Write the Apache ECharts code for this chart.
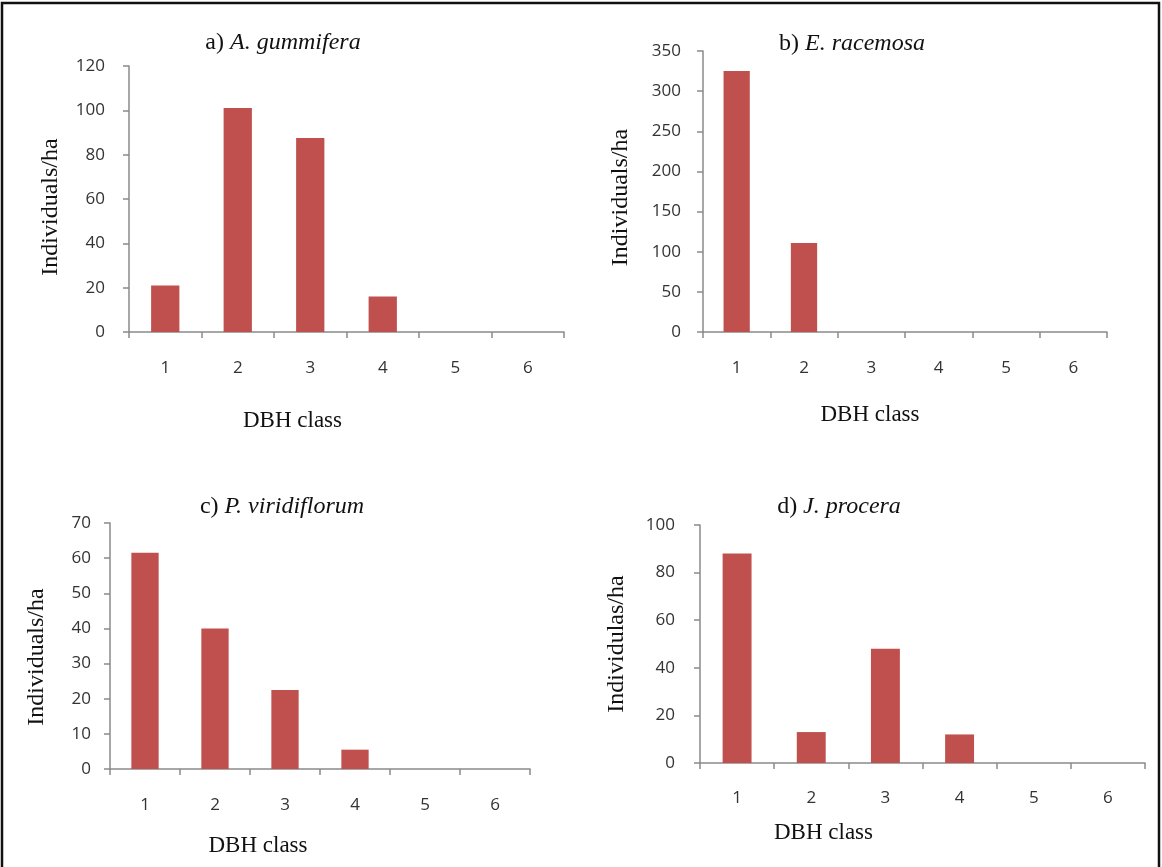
<!DOCTYPE html>
<html>
<head>
<meta charset="utf-8">
<script src="https://cdn.jsdelivr.net/npm/echarts@6/dist/echarts.min.js"></script>
<style>
html,body{margin:0;padding:0;background:#fff;}
#chart{width:1162px;height:867px;}
</style>
</head>
<body>
<div id="chart"></div>
<script>
// ---- data ----
const categories = ['1', '2', '3', '4', '5', '6'];
const gummifera = [21, 101, 87.5, 16, 0, 0];
const racemosa = [325, 111, 0, 0, 0, 0];
const viridiflorum = [61.5, 40, 22.5, 5.5, 0, 0];
const procera = [88, 13, 48, 12, 0, 0];

const titlePrefixes = ['a) ', 'b) ', 'c) ', 'd) '];
const titleSpecies = ['A. gummifera', 'E. racemosa', 'P. viridiflorum', 'J. procera'];
const yNames = ['Individuals/ha', 'Individuals/ha', 'Individuals/ha', 'Individulas/ha'];
const xName = 'DBH class';
const yMax = [120, 350, 70, 100];
const yInterval = [20, 50, 10, 20];

// ---- layout (positions & styles) ----
const grids = [
  {left: 129, top: 66, width: 435, height: 266},
  {left: 703, top: 51, width: 404, height: 281},
  {left: 110, top: 523, width: 420, height: 246},
  {left: 700, top: 525, width: 445, height: 238}
];
const titlePos = [[283, 29], [852, 30], [282, 493], [839, 493]];
const yNameGap = [66, 70, 61, 71];
const yNameShift = [8, 6, 11, 0];
const yLabelMargin = [24, 22, 19, 25];
const xNameGap = [77, 71, 65, 58];
const xNameShift = [54, 35, 62, 99];
const xLabelMargin = [28, 28, 28, 27];
const seriesData = [gummifera, racemosa, viridiflorum, procera];

const serif = '"Liberation Serif", "DejaVu Serif", serif';
const sans = '"Open Sans", Lato, "Liberation Sans", sans-serif';
const axisColor = '#8a8a8a';
const barColor = '#C0504D';

const option = {
  backgroundColor: '#ffffff',
  animation: false,
  title: titlePrefixes.map((p, i) => ({
    text: '{n|' + p + '}{i|' + titleSpecies[i] + '}',
    left: titlePos[i][0],
    top: titlePos[i][1],
    textAlign: 'center',
    padding: 0,
    textStyle: {
      fontWeight: 'normal',
      rich: {
        n: {fontFamily: serif, fontSize: 24, fontWeight: 'normal', color: '#111', lineHeight: 28},
        i: {fontFamily: serif, fontSize: 24, fontWeight: 'normal', fontStyle: 'italic', color: '#111', lineHeight: 28}
      }
    }
  })),
  grid: grids.map(g => Object.assign({containLabel: false}, g)),
  xAxis: grids.map((g, i) => ({
    type: 'category',
    gridIndex: i,
    data: categories,
    boundaryGap: true,
    name: xName,
    nameLocation: 'middle',
    nameGap: xNameGap[i],
    nameTextStyle: {
      fontFamily: serif, fontSize: 23, color: '#111',
      padding: [0, xNameShift[i] * 2, 0, 0]
    },
    axisLine: {show: true, lineStyle: {color: axisColor, width: 1.5}},
    axisTick: {show: true, alignWithLabel: false, length: 6, lineStyle: {color: axisColor, width: 1.5}},
    axisLabel: {margin: xLabelMargin[i], fontFamily: sans, fontSize: 17, color: '#333'},
    splitLine: {show: false}
  })),
  yAxis: grids.map((g, i) => ({
    type: 'value',
    gridIndex: i,
    min: 0,
    max: yMax[i],
    interval: yInterval[i],
    name: yNames[i],
    nameLocation: 'middle',
    nameGap: yNameGap[i],
    nameTextStyle: {
      fontFamily: serif, fontSize: 24, color: '#111',
      padding: [0, yNameShift[i] * 2, 0, 0]
    },
    axisLine: {show: true, lineStyle: {color: axisColor, width: 1.5}},
    axisTick: {show: true, length: 6, lineStyle: {color: axisColor, width: 1.5}},
    axisLabel: {margin: yLabelMargin[i], fontFamily: sans, fontSize: 17, color: '#333'},
    splitLine: {show: false}
  })),
  series: seriesData.map((d, i) => ({
    type: 'bar',
    xAxisIndex: i,
    yAxisIndex: i,
    data: d,
    barWidth: '39%',
    itemStyle: {color: barColor}
  })),
  graphic: [{
    type: 'rect',
    silent: true,
    shape: {x: 2, y: 3, width: 1157, height: 900},
    style: {fill: 'none', stroke: '#111', lineWidth: 2.5}
  }]
};

const chart = echarts.init(document.getElementById('chart'), null, {renderer: 'canvas'});
chart.setOption(option);
</script>
</body>
</html>
